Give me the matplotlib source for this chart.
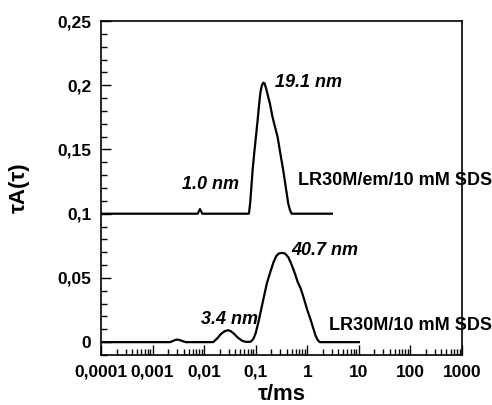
import matplotlib
matplotlib.use('Agg')
import matplotlib.pyplot as plt
from matplotlib.ticker import FixedLocator, FixedFormatter, LogLocator, NullFormatter

plt.rcParams['font.family'] = ['Liberation Sans', 'DejaVu Sans']
plt.rcParams['font.weight'] = 'bold'

# LR30M/10 mM SDS (lower curve)
tau_low = [0.0001, 0.0022, 0.0025, 0.0028, 0.003, 0.0033, 0.0037, 0.0044,
           0.015, 0.018, 0.021, 0.025, 0.029, 0.033, 0.038, 0.045, 0.055, 0.065,
           0.08, 0.09, 0.1, 0.115, 0.14, 0.165, 0.19, 0.22, 0.25, 0.28, 0.32,
           0.37, 0.43, 0.5, 0.58, 0.65, 0.74, 0.83, 0.92, 1.0, 1.15, 1.3, 1.45, 1.6, 1.75, 10]
a_low = [0, 0, 0.001, 0.0018, 0.002, 0.0017, 0.001, 0,
         0, 0.003, 0.0062, 0.0085, 0.0093, 0.0085, 0.0065, 0.0035, 0.001, 0.0002,
         0.0003, 0.0025, 0.007, 0.017, 0.033, 0.046, 0.054, 0.062, 0.067, 0.069, 0.0695,
         0.069, 0.066, 0.060, 0.053, 0.047, 0.042, 0.036, 0.030, 0.025, 0.018, 0.011, 0.005, 0.0015, 0, 0]

# LR30M/em/10 mM SDS (upper curve, offset by 0.1)
tau_up = [0.0001, 0.0075, 0.0083, 0.0092, 0.0738, 0.078, 0.0871, 0.094, 0.101, 0.109,
          0.117, 0.124, 0.132, 0.14, 0.148, 0.158, 0.172, 0.188, 0.21, 0.235, 0.265,
          0.3, 0.341, 0.385, 0.427, 0.46, 0.496, 3.0]
a_up = [0.1, 0.1, 0.1036, 0.1, 0.1, 0.108, 0.134, 0.148, 0.16, 0.173,
        0.186, 0.195, 0.2, 0.202, 0.2015, 0.198, 0.192, 0.186, 0.176, 0.168, 0.16,
        0.147, 0.134, 0.12, 0.108, 0.103, 0.1, 0.1]

xticks = [0.0001, 0.001, 0.01, 0.1, 1, 10, 100, 1000]
xtick_labels = ['0,0001', '0,001', '0,01', '0,1', '1', '10', '100', '1000']
yticks = [0, 0.05, 0.1, 0.15, 0.2, 0.25]
ytick_labels = ['0', '0,05', '0,1', '0,15', '0,2', '0,25']

fig = plt.figure(figsize=(4.92, 4.05), dpi=100)
ax = fig.add_axes([0.2053, 0.1235, 0.7337, 0.8245])

ax.plot(tau_low, a_low, color='black', lw=1.6)
ax.plot(tau_up, a_up, color='black', lw=1.6)

ax.set_xscale('log')
ax.set_xlim(0.0001, 1000)
ax.set_ylim(-0.01, 0.25)

ax.xaxis.set_major_locator(FixedLocator(xticks))
ax.xaxis.set_major_formatter(FixedFormatter(xtick_labels))
ax.xaxis.set_minor_locator(LogLocator(base=10, subs=range(2, 10), numticks=20))
ax.xaxis.set_minor_formatter(NullFormatter())
ax.yaxis.set_major_locator(FixedLocator(yticks))
ax.yaxis.set_major_formatter(FixedFormatter(ytick_labels))
ax.yaxis.set_minor_locator(FixedLocator([i * 0.01 for i in range(-1, 26)]))

ax.tick_params(which='both', direction='in', top=False, right=False, width=1)
ax.tick_params(which='major', length=7, labelsize=12.5, pad=7)
ax.tick_params(which='minor', length=4)
for lab in ax.get_xticklabels() + ax.get_yticklabels():
    lab.set_fontweight('bold')
for s in ax.spines.values():
    s.set_linewidth(1.2)

ax.set_xlabel('τ/ms', fontsize=16, fontweight='bold', labelpad=3)
ax.set_ylabel('τA(τ)', fontsize=16, fontweight='bold', labelpad=20)

ax.text(0.235, 0.2018, '19.1 nm', fontsize=13, fontweight='bold', style='italic', va='center')
ax.text(0.00367, 0.123, '1.0 nm', fontsize=13, fontweight='bold', style='italic', va='center')
ax.text(0.495, 0.0711, '40.7 nm', fontsize=13, fontweight='bold', style='italic', va='center')
ax.text(0.00867, 0.0179, '3.4 nm', fontsize=13, fontweight='bold', style='italic', va='center')
ax.text(0.665, 0.126, 'LR30M/em/10 mM SDS', fontsize=13, fontweight='bold', va='center', clip_on=False)
ax.text(2.66, 0.0132, 'LR30M/10 mM SDS', fontsize=13, fontweight='bold', va='center', clip_on=False)

fig.savefig('out.png', dpi=100)
